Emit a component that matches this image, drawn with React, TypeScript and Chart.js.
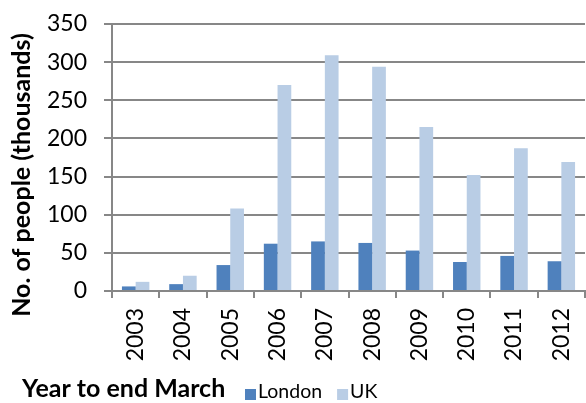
import React, { useEffect, useRef } from 'react';
import { Chart, registerables } from 'chart.js';

Chart.register(...registerables);

const years = ['2003', '2004', '2005', '2006', '2007', '2008', '2009', '2010', '2011', '2012'];
const london = [6, 9, 34, 62, 65, 63, 53, 38, 46, 39];
const uk = [12, 20, 108, 270, 309, 294, 215, 152, 187, 169];
const seriesNames = ['London', 'UK'];
const seriesColors = ['#4F81BD', '#B9CDE5'];
const yMin = 0;
const yMax = 350;
const yStep = 50;
const yTitle = 'No. of people (thousands)';
const xTitle = 'Year to end March';

const FONT = 'Lato, "Open Sans", sans-serif';
const GRID = '#878787';

const titlesPlugin = {
  id: 'customTitles',
  afterDraw(chart: any) {
    const ctx = chart.ctx as CanvasRenderingContext2D;
    ctx.save();
    ctx.fillStyle = '#000';
    ctx.textAlign = 'left';
    ctx.textBaseline = 'alphabetic';
    ctx.font = `bold 25px ${FONT}`;
    ctx.fillText(xTitle, 22, 397);

    let x = 245;
    chart.data.datasets.forEach((ds: any) => {
      ctx.fillStyle = ds.backgroundColor;
      ctx.fillRect(x, 389, 11, 11);
      ctx.fillStyle = '#000';
      ctx.font = `19.5px ${FONT}`;
      ctx.fillText(ds.label, x + 13, 398);
      x += 13 + ctx.measureText(ds.label).width + 15;
    });

    ctx.translate(22, 175);
    ctx.rotate(-Math.PI / 2);
    ctx.textAlign = 'center';
    ctx.textBaseline = 'middle';
    ctx.font = `bold 25px ${FONT}`;
    ctx.fillText(yTitle, 0, 0);
    ctx.restore();
  },
};

export default function App() {
  const ref = useRef<HTMLCanvasElement | null>(null);

  useEffect(() => {
    document.body.style.margin = '0';
    if (!ref.current) return;
    const chart = new Chart(ref.current, {
      type: 'bar',
      data: {
        labels: years,
        datasets: [
          { label: seriesNames[0], data: london, backgroundColor: seriesColors[0], borderWidth: 0 },
          { label: seriesNames[1], data: uk, backgroundColor: seriesColors[1], borderWidth: 0 },
        ],
      },
      options: {
        responsive: false,
        animation: false,
        layout: { padding: { top: 24, right: 1, bottom: 30, left: 0 } },
        datasets: { bar: { categoryPercentage: 0.58, barPercentage: 1.0 } },
        plugins: {
          legend: { display: false },
          tooltip: { enabled: false },
          title: { display: false },
        },
        scales: {
          x: {
            grid: {
              display: true,
              drawOnChartArea: false,
              drawTicks: true,
              tickLength: 7,
              color: GRID,
              lineWidth: 2,
              offset: true,
            },
            border: { display: true, color: GRID, width: 2 },
            ticks: {
              color: '#000',
              font: { family: FONT, size: 23 },
              minRotation: 90,
              maxRotation: 90,
              padding: 10,
              autoSkip: false,
            },
            afterFit(scale: any) {
              scale.height = 82;
              scale.paddingLeft = 0;
              scale.paddingRight = 0;
            },
          },
          y: {
            min: yMin,
            max: yMax,
            grid: {
              color: GRID,
              lineWidth: 2,
              drawTicks: true,
              tickLength: 8,
            },
            border: { display: true, color: GRID, width: 2 },
            ticks: {
              stepSize: yStep,
              color: '#000',
              font: { family: FONT, size: 23 },
              padding: 17,
            },
            afterFit(scale: any) {
              scale.width = 112;
              scale.paddingTop = 0;
              scale.paddingBottom = 0;
            },
          },
        },
      },
      plugins: [titlesPlugin],
    });
    return () => chart.destroy();
  }, []);

  return (
    <div style={{ width: 586, height: 403 }}>
      <canvas ref={ref} width={586} height={403} />
    </div>
  );
}
